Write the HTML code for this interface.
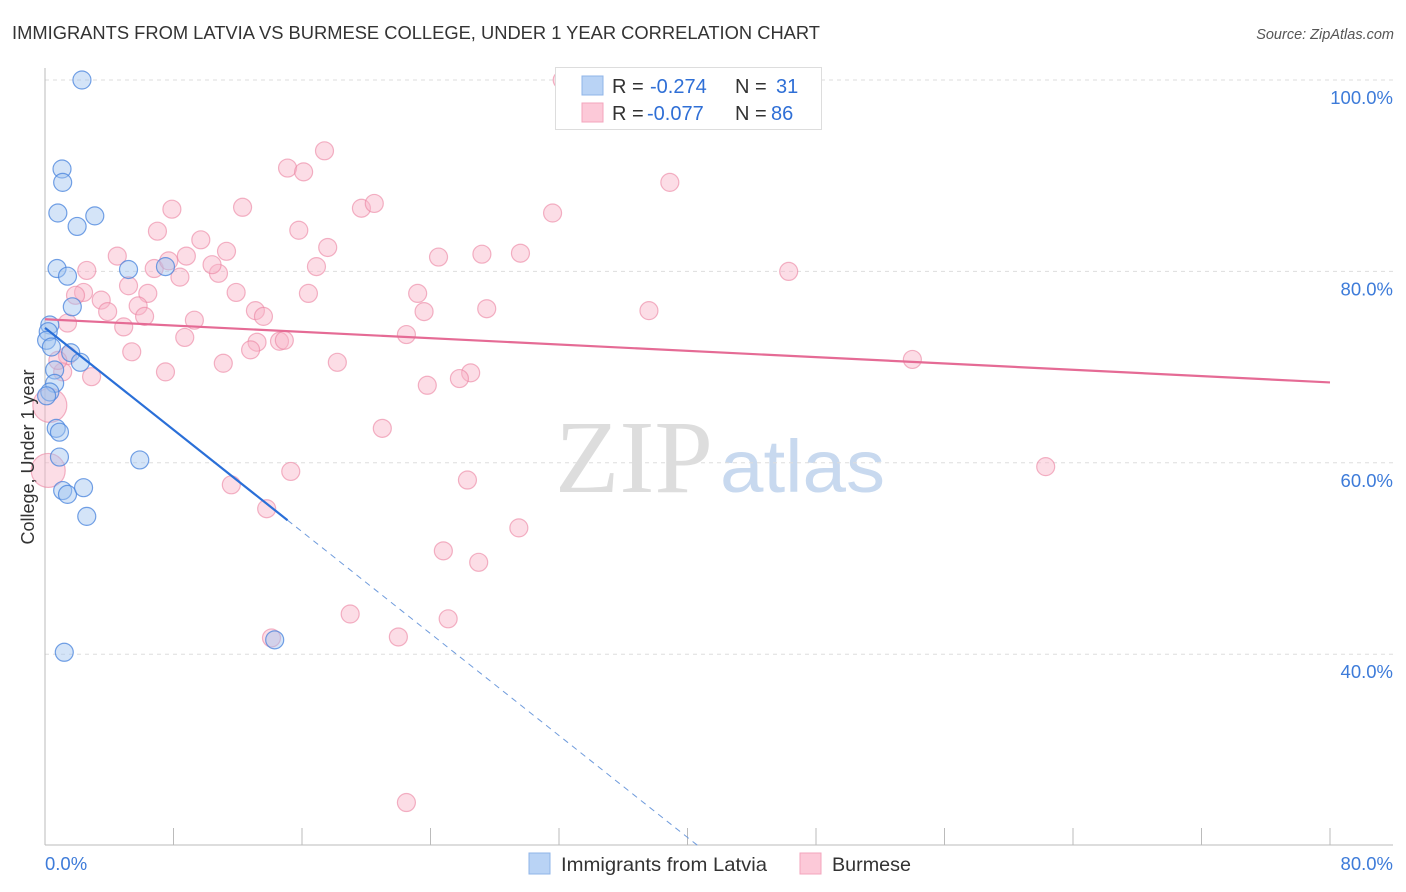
<!DOCTYPE html>
<html><head><meta charset="utf-8"><style>
body{margin:0;background:#fff;font-family:"Liberation Sans",sans-serif;}
svg{display:block}
</style></head><body>
<svg id="chart" width="1406" height="892" viewBox="0 0 1406 892" xmlns="http://www.w3.org/2000/svg" font-family="Liberation Sans, sans-serif">
<text x="12" y="39" font-size="18.3" fill="#333" textLength="808" lengthAdjust="spacingAndGlyphs">IMMIGRANTS FROM LATVIA VS BURMESE COLLEGE, UNDER 1 YEAR CORRELATION CHART</text>
<text x="1394" y="39" font-size="14.5" fill="#555" font-style="italic" text-anchor="end">Source: ZipAtlas.com</text>
<g>
<text x="555" y="492" font-size="104" fill="#ddd" font-family="Liberation Serif, serif" textLength="158" lengthAdjust="spacingAndGlyphs">ZIP</text>
<text x="720" y="492" font-size="74" fill="#c8d9ef" textLength="165" lengthAdjust="spacingAndGlyphs">atlas</text>
</g>
<g id="grid"></g>
<g id="axes"></g>
<g id="pink"></g>
<g id="blue"></g>
<g id="trends"></g>
<text transform="translate(34,457) rotate(-90)" font-size="18" fill="#333" text-anchor="middle">College, Under 1 year</text>
<g>
<rect x="555.5" y="67.5" width="266" height="62" fill="#fff" stroke="#ddd"/>
<rect x="582" y="76" width="21" height="19" fill="#b9d3f5" stroke="#8fb4e8"/>
<rect x="582" y="103" width="21" height="19" fill="#fcc9d8" stroke="#f3a5bd"/>
<text x="612" y="93" font-size="20" fill="#333">R =</text>
<text x="650" y="93" font-size="20" fill="#2f6fd6">-0.274</text>
<text x="735" y="93" font-size="20" fill="#333">N =</text>
<text x="776" y="93" font-size="20" fill="#2f6fd6">31</text>
<text x="612" y="120" font-size="20" fill="#333">R =</text>
<text x="647" y="120" font-size="20" fill="#2f6fd6">-0.077</text>
<text x="735" y="120" font-size="20" fill="#333">N =</text>
<text x="771" y="120" font-size="20" fill="#2f6fd6">86</text>
</g>
<g>
<rect x="529" y="853" width="21" height="21" fill="#b9d3f5" stroke="#8fb4e8"/>
<text x="561" y="871" font-size="19.5" fill="#333" textLength="206" lengthAdjust="spacingAndGlyphs">Immigrants from Latvia</text>
<rect x="800" y="853" width="21" height="21" fill="#fcc9d8" stroke="#f3a5bd"/>
<text x="832" y="871" font-size="19.5" fill="#333" textLength="79" lengthAdjust="spacingAndGlyphs">Burmese</text>
</g>
</svg>
<script>
const xTickLabels=["0.0%","80.0%"];
const yTicks=[100,80,60,40];
const blueX=[2.3,1.06,1.1,0.8,3.1,2.0,0.75,1.4,5.2,7.5,1.7,0.3,0.2,0.1,0.4,1.6,2.2,0.6,0.6,0.3,0.7,0.9,0.9,5.9,1.1,1.4,2.4,2.6,14.3,1.2,0.1];
const blueY=[100,90.7,89.3,86.1,85.8,84.7,80.3,79.5,80.2,80.5,76.3,74.4,73.7,72.8,72.1,71.5,70.5,69.7,68.3,67.4,63.6,63.2,60.6,60.3,57.1,56.7,57.4,54.4,41.5,40.2,67];
const pinkX=[32.2,15.1,16.1,17.4,38.9,31.6,19.7,20.5,7.9,12.3,7.0,15.8,17.6,9.7,11.3,8.8,4.5,24.5,27.2,29.6,16.9,6.8,7.7,2.6,10.8,8.4,10.4,46.3,5.2,2.4,3.5,1.9,6.4,11.9,16.4,23.2,5.8,3.9,6.2,13.1,13.6,23.6,27.5,37.6,9.3,4.9,1.4,8.7,22.5,13.2,14.6,14.9,5.4,12.8,54.0,1.4,18.2,11.1,7.5,2.9,1.1,26.5,25.8,23.8,21.0,15.3,62.3,26.3,11.6,29.5,13.8,24.8,27.0,19.0,25.1,22.0,14.1,22.5,0.8,0.3,0.2];
const pinkY=[100,90.8,90.4,92.6,89.3,86.1,86.6,87.1,86.5,86.7,84.2,84.3,82.5,83.3,82.1,81.6,81.6,81.5,81.8,81.9,80.5,80.3,81.1,80.1,79.8,79.4,80.7,80.0,78.5,77.8,77.0,77.5,77.7,77.8,77.7,77.7,76.4,75.8,75.3,75.9,75.3,75.8,76.1,75.9,74.9,74.2,74.6,73.1,73.4,72.6,72.7,72.8,71.6,71.8,70.8,71.2,70.5,70.4,69.5,69.0,69.5,69.4,68.8,68.1,63.6,59.1,59.6,58.2,57.7,53.2,55.2,50.8,49.6,44.2,43.7,41.8,41.7,24.5,70.7,66.0,59.2];
const pinkBig=[0,0,0,0,0,0,0,0,0,0,0,0,0,0,0,0,0,0,0,0,0,0,0,0,0,0,0,0,0,0,0,0,0,0,0,0,0,0,0,0,0,0,0,0,0,0,0,0,0,0,0,0,0,0,0,0,0,0,0,0,0,0,0,0,0,0,0,0,0,0,0,0,0,0,0,0,0,0,0,1,1];
const blueTrend=[74.1,54.0,15.1];
const pinkTrend=[75.0,68.4];
const NS="http://www.w3.org/2000/svg";
const sx=v=>45+v*(1285/80);
const sy=v=>80+(100-v)*9.57;
function mk(tag,attrs,parent){const e=document.createElementNS(NS,tag);for(const k in attrs)e.setAttribute(k,attrs[k]);parent.appendChild(e);return e;}
const grid=document.getElementById('grid'),axes=document.getElementById('axes');
yTicks.forEach(t=>{
 const l=mk('line',{x1:45,x2:1393,y1:sy(t),y2:sy(t),stroke:'#ddd','stroke-dasharray':'4,4'},grid);
 
 
 const tx=mk('text',{x:1393,y:sy(t)+24,'font-size':18.5,fill:'#3d7bd9','text-anchor':'end'},axes);
 tx.textContent=t.toFixed(1)+'%';
 
 
});
const ax=mk('line',{x1:45,x2:1393,y1:845,y2:845,stroke:'#bbb'},axes);


const ay=mk('line',{x1:45,x2:45,y1:68,y2:845,stroke:'#bbb'},axes);


for(let i=0;i<=10;i++){
 const t=mk('line',{x1:sx(i*8),x2:sx(i*8),y1:828,y2:845,stroke:'#bbb'},axes);
 
 
}
const xl0=mk('text',{x:45,y:870,'font-size':18.5,fill:'#3d7bd9'},axes);xl0.textContent=xTickLabels[0];


const xl1=mk('text',{x:1393,y:870,'font-size':18.5,fill:'#3d7bd9','text-anchor':'end'},axes);xl1.textContent=xTickLabels[1];


const pg=document.getElementById('pink');
pinkX.forEach((x,i)=>{
 const c=mk('circle',{cx:sx(x),cy:sy(pinkY[i]),r:pinkBig[i]?17:9,fill:'rgba(248,180,200,0.45)',stroke:'rgba(235,130,160,0.6)','stroke-width':1.2},pg);
 
 
});
const bg=document.getElementById('blue');
blueX.forEach((x,i)=>{
 const c=mk('circle',{cx:sx(x),cy:sy(blueY[i]),r:9,fill:'rgba(160,195,240,0.45)',stroke:'rgba(70,130,220,0.75)','stroke-width':1.2},bg);
 
 
});
const tg=document.getElementById('trends');
const slope=(blueTrend[1]-blueTrend[0])/blueTrend[2];
const xEnd=(20-blueTrend[0])/slope;
const bs=mk('line',{x1:sx(0),y1:sy(blueTrend[0]),x2:sx(blueTrend[2]),y2:sy(blueTrend[1]),stroke:'#2a6fd8','stroke-width':2.2},tg);


const bd=mk('line',{x1:sx(blueTrend[2]),y1:sy(blueTrend[1]),x2:sx(xEnd),y2:sy(20),stroke:'#6f9bdc','stroke-width':1,'stroke-dasharray':'6,5'},tg);


const pl=mk('line',{x1:sx(0),y1:sy(pinkTrend[0]),x2:sx(80),y2:sy(pinkTrend[1]),stroke:'#e56b95','stroke-width':2.2},tg);


</script>
</body></html>
